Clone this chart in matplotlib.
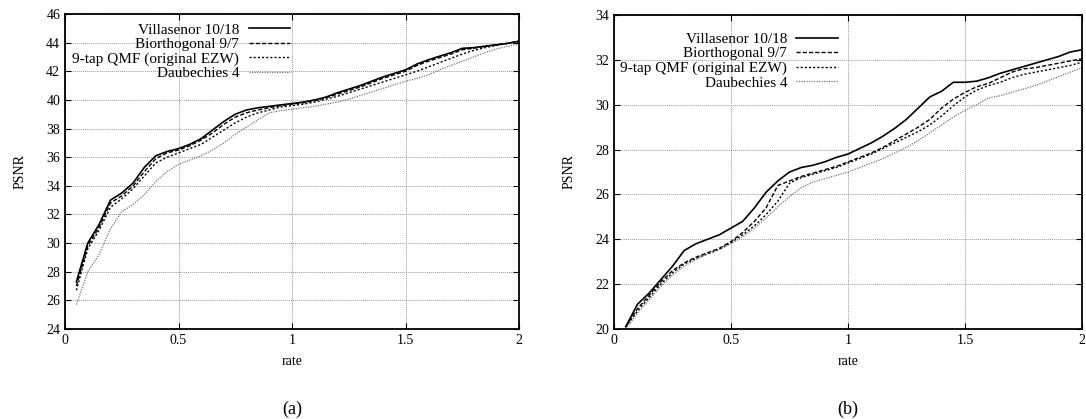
import matplotlib
matplotlib.use("Agg")
import matplotlib.pyplot as plt

plt.rcParams['font.family'] = ['Liberation Serif', 'DejaVu Serif']

# rate axis shared by both plots
rate = [0.05 * (i + 1) for i in range(40)]

# (a)
a_vill = [27.3, 30.0, 31.3, 33.0, 33.5, 34.2, 35.3, 36.1, 36.4, 36.6,
          36.9, 37.3, 37.9, 38.5, 39.0, 39.3, 39.45, 39.55, 39.65, 39.75,
          39.85, 40.0, 40.2, 40.5, 40.75, 41.0, 41.3, 41.6, 41.85, 42.1,
          42.5, 42.8, 43.05, 43.3, 43.6, 43.65, 43.75, 43.85, 43.95, 44.1]
a_bior = [27.0, 29.8, 31.1, 32.8, 33.3, 34.0, 35.0, 35.9, 36.3, 36.5,
          36.8, 37.2, 37.7, 38.3, 38.8, 39.1, 39.3, 39.45, 39.6, 39.7,
          39.8, 39.95, 40.15, 40.4, 40.65, 40.9, 41.2, 41.5, 41.75, 42.0,
          42.4, 42.7, 42.95, 43.2, 43.5, 43.6, 43.75, 43.85, 43.95, 44.1]
a_qmf = [26.7, 29.6, 30.9, 32.5, 33.1, 33.8, 34.7, 35.6, 36.0, 36.3,
         36.6, 36.9, 37.4, 37.9, 38.4, 38.8, 39.1, 39.3, 39.5, 39.6,
         39.7, 39.85, 40.05, 40.25, 40.5, 40.75, 41.0, 41.25, 41.5, 41.75,
         42.0, 42.3, 42.6, 42.9, 43.2, 43.45, 43.65, 43.8, 43.95, 44.05]
a_daub = [25.7, 28.0, 29.2, 31.0, 32.2, 32.7, 33.4, 34.3, 35.0, 35.5,
          35.8, 36.1, 36.5, 37.0, 37.6, 38.1, 38.6, 39.1, 39.25, 39.35,
          39.45, 39.55, 39.7, 39.85, 40.05, 40.3, 40.55, 40.8, 41.05, 41.3,
          41.5, 41.75, 42.1, 42.4, 42.7, 43.0, 43.3, 43.55, 43.75, 43.9]

# (b)
b_vill = [20.1, 21.1, 21.6, 22.2, 22.8, 23.5, 23.8, 24.0, 24.2, 24.5,
          24.8, 25.4, 26.1, 26.6, 27.0, 27.2, 27.3, 27.45, 27.65, 27.8,
          28.05, 28.3, 28.6, 28.95, 29.35, 29.85, 30.35, 30.6, 31.0, 31.0,
          31.05, 31.2, 31.4, 31.55, 31.7, 31.85, 32.0, 32.15, 32.35, 32.45]
b_bior = [20.1, 20.9, 21.5, 22.1, 22.6, 22.95, 23.2, 23.4, 23.6, 23.9,
          24.3, 24.8, 25.4, 26.4, 26.6, 26.8, 26.95, 27.1, 27.25, 27.45,
          27.65, 27.85, 28.1, 28.4, 28.7, 29.0, 29.35, 29.85, 30.25, 30.55,
          30.8, 30.95, 31.2, 31.45, 31.6, 31.65, 31.75, 31.85, 31.95, 32.05]
b_qmf = [20.1, 20.8, 21.4, 22.0, 22.5, 22.9, 23.15, 23.35, 23.55, 23.85,
         24.2, 24.6, 25.1, 25.7, 26.5, 26.75, 26.9, 27.05, 27.2, 27.4,
         27.6, 27.8, 28.05, 28.3, 28.55, 28.8, 29.1, 29.5, 29.95, 30.35,
         30.65, 30.85, 31.0, 31.2, 31.35, 31.45, 31.55, 31.65, 31.75, 31.9]
b_daub = [20.0, 20.7, 21.3, 21.9, 22.4, 22.8, 23.1, 23.35, 23.55, 23.8,
          24.1, 24.5, 24.95, 25.45, 25.9, 26.3, 26.55, 26.7, 26.85, 27.0,
          27.2, 27.4, 27.6, 27.85, 28.1, 28.4, 28.75, 29.1, 29.45, 29.75,
          30.0, 30.3, 30.4, 30.55, 30.7, 30.85, 31.05, 31.25, 31.45, 31.65]

labels = ['Villasenor 10/18', 'Biorthogonal 9/7',
          '9-tap QMF (original EZW)', 'Daubechies 4']
styles = [dict(color='black', lw=1.2, ls='-'),
          dict(color='black', lw=1.0, ls=(0, (3, 1.5))),
          dict(color='black', lw=1.0, ls=(0, (1.5, 1.5))),
          dict(color='#777777', lw=0.9, ls=(0, (1, 1)))]

fig = plt.figure(figsize=(10.86, 4.19), dpi=100)
ax_a = fig.add_axes([0.0599, 0.2148, 0.4180, 0.7518])
ax_b = fig.add_axes([0.5654, 0.2148, 0.4309, 0.7494])

panels = [(ax_a, [a_vill, a_bior, a_qmf, a_daub], (24, 46), '(a)', (0.495, 0.972)),
          (ax_b, [b_vill, b_bior, b_qmf, b_daub], (20, 34), '(b)', (0.478, 0.945))]

for ax, series, ylim, cap, legpos in panels:
    for s, lab, st in zip(series, labels, styles):
        ax.plot(rate, s, label=lab, **st)
    ax.set_xlim(0, 2)
    ax.set_ylim(*ylim)
    ax.set_xticks([0, 0.5, 1, 1.5, 2])
    ax.set_xticklabels(['0', '0.5', '1', '1.5', '2'])
    ax.set_yticks(range(ylim[0], ylim[1] + 1, 2))
    ax.grid(True, color='#999999', ls=(0, (1, 1)), lw=0.7)
    ax.tick_params(direction='in', top=True, right=True, labelsize=10, length=4)
    for sp in ax.spines.values():
        sp.set_linewidth(1.3)
    ax.set_xlabel('rate', fontsize=10, labelpad=6)
    ax.set_ylabel('PSNR', fontsize=10, labelpad=14)
    ax.legend(loc='upper right', bbox_to_anchor=legpos, frameon=False,
              markerfirst=False, fontsize=11, labelspacing=0.05,
              handlelength=2.7, handletextpad=0.6, borderpad=0.0,
              borderaxespad=0.0)
    ax.text(0.5, -0.255, cap, transform=ax.transAxes, ha='center',
            va='center', fontsize=13)

fig.savefig('out.png', dpi=100)
